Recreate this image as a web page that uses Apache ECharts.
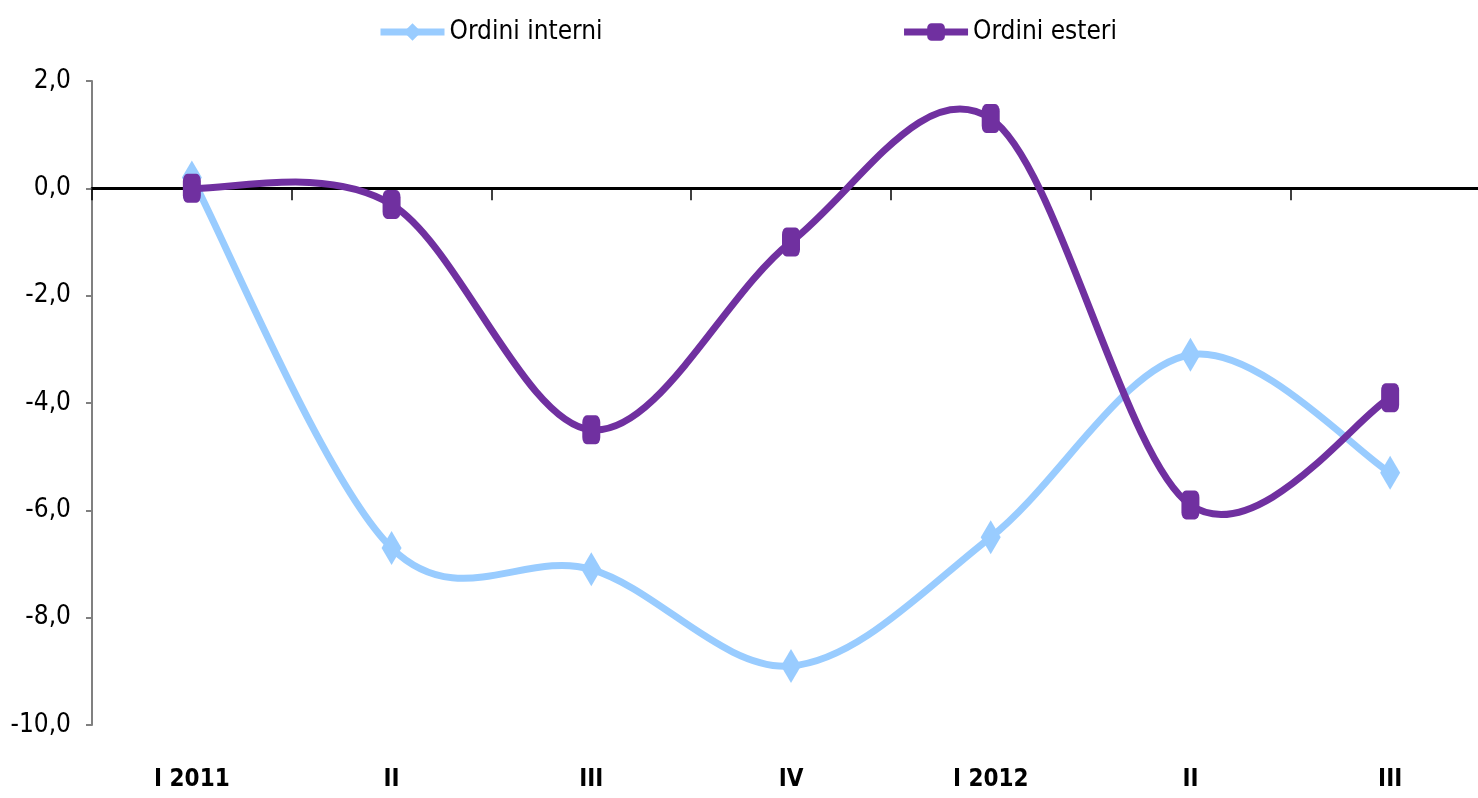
<!DOCTYPE html>
<html>
<head>
<meta charset="utf-8">
<script src="https://cdn.jsdelivr.net/npm/echarts@6/dist/echarts.min.js"></script>
<style>
html,body{margin:0;padding:0;background:#fff;}
#c{width:1478px;height:798px;}
</style>
</head>
<body>
<div id="c"></div>
<script>
var categories = ['I 2011', 'II', 'III', 'IV', 'I 2012', 'II', 'III'];
var ordiniInterni = [0.2, -6.7, -7.1, -8.9, -6.5, -3.1, -5.3];
var ordiniEsteri = [0.0, -0.3, -4.5, -1.0, 1.3, -5.9, -3.9];
var yTicks = { min: -10, max: 2, interval: 2 };

var FONT = '"DejaVu Sans Condensed", "Liberation Sans Narrow", sans-serif';
var BLUE = '#99CCFF', PURPLE = '#7030A0';

// Excel-like smoothed curve (Catmull-Rom Bezier) drawn through the axes' own scales
function smoothRenderer(values, color) {
  return function (params, api) {
    if (params.dataIndex !== 0) return null;
    var pts = values.map(function (v, i) { return api.coord([i, v]); });
    var n = pts.length;
    var d = 'M' + pts[0][0] + ' ' + pts[0][1];
    for (var i = 0; i < n - 1; i++) {
      var p0 = pts[Math.max(i - 1, 0)], p1 = pts[i], p2 = pts[i + 1], p3 = pts[Math.min(i + 2, n - 1)];
      var c1x = p1[0] + (p2[0] - p0[0]) / 6, c1y = p1[1] + (p2[1] - p0[1]) / 6;
      var c2x = p2[0] - (p3[0] - p1[0]) / 6, c2y = p2[1] - (p3[1] - p1[1]) / 6;
      d += ' C' + c1x + ' ' + c1y + ' ' + c2x + ' ' + c2y + ' ' + p2[0] + ' ' + p2[1];
    }
    return {
      type: 'path',
      shape: { pathData: d },
      style: { fill: null, stroke: color, lineWidth: 7, lineCap: 'round', lineJoin: 'round' },
      silent: true
    };
  };
}

var chart = echarts.init(document.getElementById('c'));
chart.setOption({
  animation: false,
  backgroundColor: '#fff',
  legend: {
    top: 14,
    left: 372,
    itemGap: 298,
    itemWidth: 64,
    itemHeight: 22,
    textStyle: { fontFamily: FONT, fontSize: 26, color: '#000' },
    data: [
      { name: 'Ordini interni', lineStyle: { color: BLUE, width: 7, opacity: 1 } },
      { name: 'Ordini esteri', lineStyle: { color: PURPLE, width: 7, opacity: 1 } }
    ]
  },
  grid: { left: 92, right: -12, top: 81, bottom: 73, containLabel: false, outerBoundsMode: 'none' },
  xAxis: [
    {
      type: 'category',
      data: categories,
      boundaryGap: true,
      axisLine: { onZero: true, lineStyle: { color: '#000', width: 3 } },
      axisTick: { show: true, length: 12, interval: 0, lineStyle: { color: '#000', width: 1.5 } },
      axisLabel: { show: false },
      splitLine: { show: false }
    },
    {
      type: 'category',
      data: categories,
      position: 'bottom',
      boundaryGap: true,
      axisLine: { show: false, onZero: false },
      axisTick: { show: false },
      axisLabel: { show: true, margin: 43, fontFamily: FONT, fontSize: 24, fontWeight: 'bold', color: '#000' }
    }
  ],
  yAxis: {
    type: 'value',
    min: yTicks.min,
    max: yTicks.max,
    interval: yTicks.interval,
    axisLine: { show: true, lineStyle: { color: '#808080', width: 2 } },
    axisTick: { show: true, length: 6, lineStyle: { color: '#808080', width: 2 } },
    axisLabel: {
      margin: 21,
      fontFamily: FONT, fontSize: 26, color: '#000',
      formatter: function (v) { return v.toFixed(1).replace('.', ','); }
    },
    splitLine: { show: false }
  },
  series: [
    {
      name: 'curve-interni',
      type: 'custom',
      coordinateSystem: 'cartesian2d',
      renderItem: smoothRenderer(ordiniInterni, BLUE),
      data: ordiniInterni.map(function (v, i) { return [i, v]; }),
      encode: { x: 0, y: 1 },
      z: 2
    },
    {
      name: 'Ordini interni',
      type: 'line',
      data: ordiniInterni,
      symbol: 'diamond',
      symbolSize: [20, 34],
      color: BLUE,
      lineStyle: { color: BLUE, width: 7, opacity: 0 },
      itemStyle: { color: BLUE },
      z: 3
    },
    {
      name: 'curve-esteri',
      type: 'custom',
      coordinateSystem: 'cartesian2d',
      renderItem: smoothRenderer(ordiniEsteri, PURPLE),
      data: ordiniEsteri.map(function (v, i) { return [i, v]; }),
      encode: { x: 0, y: 1 },
      z: 4
    },
    {
      name: 'Ordini esteri',
      type: 'line',
      data: ordiniEsteri,
      symbol: 'roundRect',
      symbolSize: [18, 29],
      color: PURPLE,
      lineStyle: { color: PURPLE, width: 7, opacity: 0 },
      itemStyle: { color: PURPLE },
      z: 5
    }
  ]
});
</script>
</body>
</html>
